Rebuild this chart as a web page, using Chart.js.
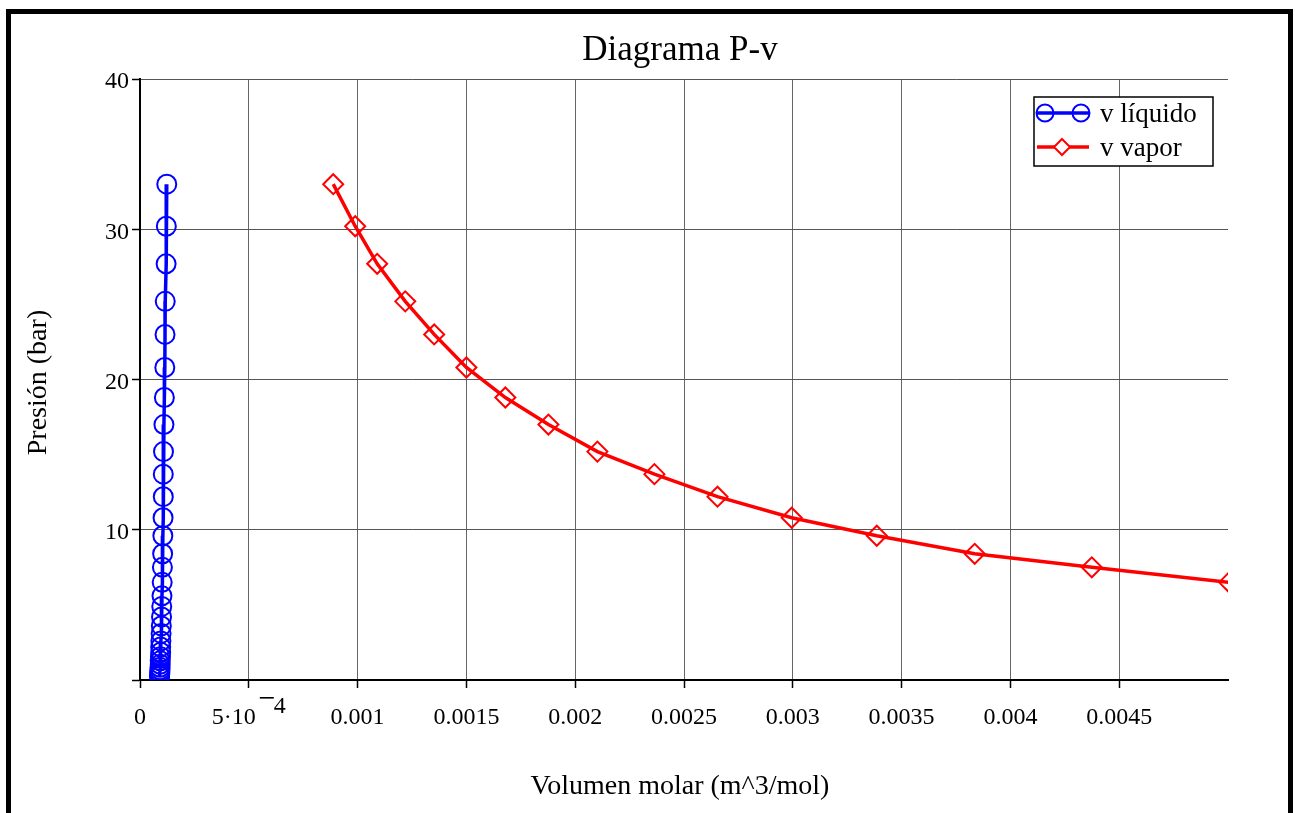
<!DOCTYPE html>
<html>
<head>
<meta charset="utf-8">
<title>Diagrama P-v</title>
<script src="https://cdn.jsdelivr.net/npm/chart.js@4/dist/chart.umd.min.js"></script>
<style>
  html, body { margin: 0; padding: 0; background: #fff; }
  #wrap { position: relative; width: 1295px; height: 813px; }
</style>
</head>
<body>
<div id="wrap"><canvas id="pv" width="1295" height="813"></canvas></div>
<script>
// Saturation pressures (bar), shared by both branches of the dome
const pressure = [33.0, 30.2, 27.7, 25.2, 23.0, 20.8, 18.8, 17.0, 15.2, 13.7, 12.2, 10.8, 9.6, 8.4, 7.5, 6.5,
                  5.6, 4.9, 4.2, 3.6, 3.1, 2.6, 2.2, 1.85, 1.55, 1.28, 1.05, 0.85, 0.68, 0.54, 0.42, 0.32, 0.24];
// Saturated liquid molar volume (m^3/mol)
const vLiquid = [1.23e-4, 1.21e-4, 1.20e-4, 1.16e-4, 1.15e-4, 1.14e-4, 1.12e-4, 1.10e-4, 1.08e-4, 1.07e-4, 1.07e-4,
                 1.06e-4, 1.05e-4, 1.04e-4, 1.03e-4, 1.02e-4, 1.01e-4, 1.00e-4, 0.99e-4, 0.98e-4, 0.97e-4, 0.96e-4,
                 0.95e-4, 0.95e-4, 0.94e-4, 0.93e-4, 0.93e-4, 0.92e-4, 0.92e-4, 0.91e-4, 0.91e-4, 0.90e-4, 0.90e-4];
// Saturated vapour molar volume (m^3/mol); lower pressures fall beyond the plotted range
const vVapor = [0.000888, 0.000989, 0.00109, 0.001219, 0.001352, 0.0015, 0.001679, 0.001877, 0.002102,
                0.002364, 0.002654, 0.002995, 0.003386, 0.003836, 0.004374, 0.005005];
// Axis ticks
const xTicks = [0, 0.0005, 0.001, 0.0015, 0.002, 0.0025, 0.003, 0.0035, 0.004, 0.0045];
const yTicks = [10, 20, 30, 40];

const SERIF = '"Liberation Serif", "Times New Roman", serif';
const BLUE = '#0000ff';
const RED = '#ff0000';

const liquidPts = vLiquid.map((v, i) => ({ x: v, y: pressure[i] }));
const vaporPts = vVapor.map((v, i) => ({ x: v, y: pressure[i] }));

function fmtX(v) {
  if (v === 0) return '0';
  return String(parseFloat(v.toFixed(5)));
}

const decorations = {
  id: 'decorations',
  beforeDraw(chart) {
    const ctx = chart.ctx;
    ctx.save();
    ctx.fillStyle = '#fff';
    ctx.fillRect(0, 0, chart.width, chart.height);
    ctx.restore();
  },
  afterDraw(chart) {
    const ctx = chart.ctx;
    const xs = chart.scales.x;
    const area = chart.chartArea;
    ctx.save();

    // outer frame (open at the bottom)
    ctx.fillStyle = '#000';
    ctx.fillRect(6, 9, 5, 804);
    ctx.fillRect(6, 9, 1287, 5);
    ctx.fillRect(1288, 9, 5, 804);

    // title
    ctx.fillStyle = '#000';
    ctx.textAlign = 'center';
    ctx.textBaseline = 'alphabetic';
    ctx.font = '35px ' + SERIF;
    ctx.fillText('Diagrama P-v', (area.left + area.right) / 2 - 4, 60);

    // x tick labels
    ctx.font = '24px ' + SERIF;
    const base = 724;
    xTicks.forEach(v => {
      const px = xs.getPixelForValue(v);
      if (Math.abs(v - 0.0005) < 1e-9) {
        const main = '5\u00b710';
        const sup = '4';
        const wMain = ctx.measureText(main).width;
        const wMinus = 14;
        const wSup = ctx.measureText(sup).width;
        const start = px - (wMain + 4 + wMinus + wSup) / 2;
        ctx.textAlign = 'left';
        ctx.fillText(main, start, base);
        // superscript exponent
        ctx.fillRect(start + wMain + 4, 697, wMinus, 1.6);
        ctx.fillText(sup, start + wMain + 4 + wMinus, base - 11);
        ctx.textAlign = 'center';
      } else {
        ctx.fillText(fmtX(v), px, base);
      }
    });

    // axis titles
    ctx.font = '28px ' + SERIF;
    ctx.textAlign = 'center';
    ctx.fillText('Volumen molar (m^3/mol)', 680, 794);
    ctx.save();
    ctx.translate(46, (area.top + area.bottom) / 2 + 3);
    ctx.rotate(-Math.PI / 2);
    ctx.fillText('Presi\u00f3n (bar)', 0, 0);
    ctx.restore();

    // legend
    ctx.fillStyle = '#fff';
    ctx.fillRect(1034, 97, 179, 69);
    ctx.strokeStyle = '#000';
    ctx.lineWidth = 1.5;
    ctx.strokeRect(1034, 97, 179, 69);

    ctx.lineWidth = 3.5;
    ctx.strokeStyle = BLUE;
    ctx.beginPath(); ctx.moveTo(1037, 113); ctx.lineTo(1089, 113); ctx.stroke();
    ctx.lineWidth = 2;
    [1045, 1081].forEach(cx => { ctx.beginPath(); ctx.arc(cx, 113, 8.5, 0, Math.PI * 2); ctx.stroke(); });

    ctx.lineWidth = 3.5;
    ctx.strokeStyle = RED;
    ctx.beginPath(); ctx.moveTo(1037, 147); ctx.lineTo(1089, 147); ctx.stroke();
    ctx.lineWidth = 2;
    ctx.beginPath();
    ctx.moveTo(1062, 139); ctx.lineTo(1070, 147); ctx.lineTo(1062, 155); ctx.lineTo(1054, 147); ctx.closePath();
    ctx.fillStyle = '#fff'; ctx.fill(); ctx.stroke();

    ctx.fillStyle = '#000';
    ctx.textAlign = 'left';
    ctx.font = '27px ' + SERIF;
    ctx.fillText('v l\u00edquido', 1100, 122);
    ctx.fillText('v vapor', 1100, 156);

    ctx.restore();
  }
};

new Chart(document.getElementById('pv'), {
  type: 'line',
  data: {
    datasets: [
      {
        label: 'v líquido',
        data: liquidPts,
        borderColor: BLUE,
        backgroundColor: 'rgba(0,0,0,0)',
        borderWidth: 3.5,
        pointStyle: 'circle',
        pointRadius: 9.5,
        pointBorderWidth: 2,
        pointBorderColor: BLUE,
        pointBackgroundColor: 'rgba(0,0,0,0)',
        tension: 0
      },
      {
        label: 'v vapor',
        data: vaporPts,
        borderColor: RED,
        backgroundColor: 'rgba(0,0,0,0)',
        borderWidth: 3.5,
        pointStyle: 'rectRot',
        pointRadius: 10,
        pointBorderWidth: 2,
        pointBorderColor: RED,
        pointBackgroundColor: 'rgba(0,0,0,0)',
        tension: 0
      }
    ]
  },
  options: {
    responsive: false,
    animation: false,
    events: [],
    layout: { padding: { top: 79, right: 67, left: 0, bottom: 0 } },
    plugins: {
      legend: { display: false },
      title: { display: false },
      tooltip: { enabled: false }
    },
    scales: {
      x: {
        type: 'linear',
        min: 0,
        max: 0.005,
        afterFit(scale) { scale.height = 133; },
        afterBuildTicks(scale) {
          scale.ticks = xTicks.concat([0.005]).map(v => ({ value: v }));
        },
        ticks: { display: false },
        grid: {
          color: c => (c.tick && (c.tick.value === 0 || c.tick.value >= 0.005)) ? 'rgba(0,0,0,0)' : '#666',
          tickColor: c => (c.tick && c.tick.value >= 0.005) ? 'rgba(0,0,0,0)' : '#000',
          lineWidth: 1,
          tickLength: 8,
          tickWidth: 1.5
        },
        border: { color: '#000', width: 2 }
      },
      y: {
        type: 'linear',
        min: 0,
        max: 40,
        afterFit(scale) { scale.width = 140; },
        afterBuildTicks(scale) {
          scale.ticks = [0].concat(yTicks).map(v => ({ value: v }));
        },
        ticks: {
          color: '#000',
          padding: 3,
          labelOffset: 3,
          font: { family: SERIF, size: 24 },
          callback: v => (v === 0 ? '' : String(v))
        },
        grid: {
          color: c => (c.tick && c.tick.value === 0) ? 'rgba(0,0,0,0)' : '#555',
          tickColor: '#000',
          lineWidth: 1,
          tickLength: 8,
          tickWidth: 1.5
        },
        border: { color: '#000', width: 2 }
      }
    }
  },
  plugins: [decorations]
});
</script>
</body>
</html>
